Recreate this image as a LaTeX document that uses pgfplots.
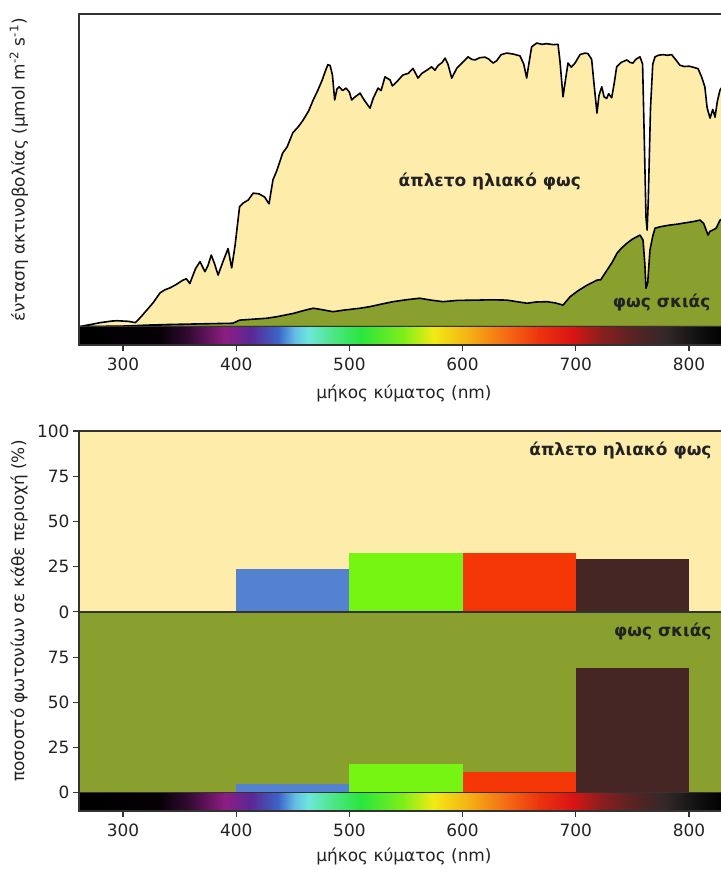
\documentclass[border=0pt]{standalone}
\usepackage{fontspec}
\setmainfont{DejaVu Sans}
\usepackage{pgfplots}
\pgfplotsset{compat=1.18}
\definecolor{sunfill}{RGB}{254,236,170}
\definecolor{shadefill}{RGB}{137,159,46}
\definecolor{barblue}{RGB}{85,130,208}
\definecolor{bargreen}{RGB}{118,245,18}
\definecolor{barred}{RGB}{245,55,8}
\definecolor{barbrown}{RGB}{70,38,36}
\definecolor{axcol}{RGB}{51,51,51}
\definecolor{txt}{RGB}{34,34,34}
\pgfplotsset{colormap={spec}{
 rgb255(0pt)=(0,0,0) rgb255(70pt)=(5,0,5) rgb255(96pt)=(50,10,50)
 rgb255(129pt)=(140,30,130) rgb255(152pt)=(90,40,150) rgb255(176pt)=(60,100,200)
 rgb255(191pt)=(100,190,230) rgb255(202pt)=(110,230,220) rgb255(223pt)=(80,230,140)
 rgb255(249pt)=(40,230,60) rgb255(287pt)=(130,238,25) rgb255(313pt)=(240,235,20)
 rgb255(343pt)=(245,180,20) rgb255(381pt)=(245,100,20) rgb255(407pt)=(235,50,15)
 rgb255(436pt)=(220,20,20) rgb255(460pt)=(140,30,30) rgb255(489pt)=(90,35,35)
 rgb255(519pt)=(50,40,40) rgb255(549pt)=(15,15,15) rgb255(569pt)=(0,0,0)}}
\pgfplotsset{common/.style={scale only axis, width=644.1bp, xmin=261, xmax=830,
 axis on top, axis line style={axcol, line width=1.3bp},
 xtick={300,400,...,800}, xtick pos=bottom, tick align=outside, major tick length=6bp,
 tick style={axcol, line width=1.1bp},
 ticklabel style={font=\fontsize{17}{20}\selectfont, text=txt},
 xticklabel style={yshift=-3bp},
 /pgf/number format/assume math mode=true, /pgf/number format/set thousands separator={}}}
\newcommand{\lblfont}{\fontsize{17}{20}\selectfont}
\newcommand{\boldfont}{\fontsize{17}{20}\selectfont\bfseries}
\begin{document}
\begin{tikzpicture}[x=1bp,y=1bp]
\useasboundingbox (0,0) rectangle (721,870);
% ---------------- top panel ----------------
\begin{axis}[common, at={(78.85bp,525bp)}, anchor=south west, height=331bp,
 ymin=-5.85, ymax=100, ytick=\empty]
\addplot[fill=sunfill, draw=black, line width=1.6bp, line join=round] coordinates {
(261,0) (270,0.6) (280,1.3) (290,1.8) (295,1.9) (300,1.8) (305,1.7) (311,1.3) (316,3.2)
(321,5.3) (326.5,7.6) (332.7,10.8) (337,11.8) (341.5,12.4) (347,13.5) (353,14.9) (356,15.3)
(359,13.8) (364,18.5) (368,20.8) (372.4,17.6) (375,19.5) (378,22.9) (381,20.0) (384,16.5)
(388,20.5) (392.8,25) (396,18.8) (399,26) (403,38.4) (406,39.5) (410.6,40.5) (415,42.7)
(420,42.5) (425,41.5) (429,39.3) (432.5,47) (436,50) (441,55.5) (445,57.5) (450,62)
(455,64) (459,66) (464,69) (468,72.5) (472,75.5) (476,78.9) (479,82) (481,83.8) (483,83.5)
(485,80.5) (487,72.5) (489,76) (491,76.7) (494,75.5) (497,76.3) (500,75) (502,72.5)
(505,73.5) (507,74) (509.4,74.7) (513,72.5) (518.2,69.9) (521,73) (525.3,76.3) (528,75.5)
(531.4,79.9) (535.9,78.9) (538,77) (541.8,78.3) (547.3,80.5) (552,81) (556.2,82.6)
(560.6,79.5) (564,81) (568.3,82) (572.7,83.1) (575.5,82) (578.3,83.5) (582,84.5)
(584.5,85.9) (587,84) (590.4,79.5) (594.8,82.6) (600,84.5) (604.8,86.3) (608,85.5)
(611,85.3) (615,86) (619.8,86.2) (623,85.6) (626.9,84.3) (630,85) (634,87) (639,87.5)
(644.5,87.2) (650.7,86.6) (654,84) (656.6,79.5) (658.5,84) (661,89.5) (665.5,90.7)
(670,90.3) (674.3,90.5) (680,90.2) (684.3,90.3) (686,85) (688.7,73.5) (690.5,78)
(693.1,84.3) (696,83) (699.3,84.3) (703.7,87) (708,87.5) (710.8,87.3) (714,85.5) (716,78)
(718.7,68.3) (720.5,74) (722.9,76.7) (725,73.5) (727.3,73) (729,74.5) (731.7,73.2)
(734,78) (736.1,83.1) (740,84.5) (745,85.3) (748,84.5) (750.5,84.3) (753,85.5)
(756.7,86.3) (759,84) (760.5,60) (762,35) (763,30.9) (764,40) (766,70) (768,84) (770,86.3)
(773,86.8) (777,87) (781,86.8) (784.7,87) (788,85.5) (792,83.6) (796,83.2) (800,83.3)
(803.5,83) (808,82.5) (811,80) (814,76.7) (816,70) (818.6,66.7) (821,69.5) (823,67)
(825,72) (827.4,75.7) (830,77) (830,0)} -- cycle;
\addplot[fill=shadefill, draw=black, line width=1.6bp, line join=round] coordinates {
(261,0) (280,0.1) (300,0.2) (308.8,0.3) (321,0.5) (340,0.7) (368,0.9) (397,1.1) (403,2.1)
(415,2.4) (427,2.7) (436,3.2) (450,4.2) (460,5.2) (468,5.9) (475,5.5) (485.5,4.8)
(495,5.3) (509.4,5.9) (518,6.4) (528,7.2) (538.5,8.0) (550,8.6) (562,9.1) (572,8.5)
(582.7,8.0) (595,8.4) (612.7,8.5) (625,8.6) (639,8.5) (648,8.0) (657,7.5) (665,7.9)
(674.5,8.0) (682,7.6) (688.7,6.9) (695,9.6) (702,11.5) (710,13.3) (715,14.2) (718.7,14.9)
(722,15.0) (727.6,18.1) (732,20.5) (736.4,23.5) (740,25) (745.2,26.7) (750,28)
(756.7,29.3) (759.4,27.7) (761,20) (762,12.3) (763.5,14) (765.5,24.5) (768,29) (770,31.5)
(775,32) (783,32.5) (790,32.8) (794.7,33.1) (800,33.4) (805,33.7) (809.7,34.1) (813,33)
(816.8,29.3) (818.5,30.5) (821,30.9) (824,31.5) (827.4,34.1) (830,34.5) (830,0)} -- cycle;
\addplot[surf, shader=interp, colormap name=spec, point meta=x] coordinates {
(261,-5.85) (331,-5.85) (357,-5.85) (390,-5.85) (413,-5.85) (437,-5.85) (452,-5.85)
(463,-5.85) (484,-5.85) (510,-5.85) (548,-5.85) (574,-5.85) (604,-5.85) (642,-5.85)
(668,-5.85) (697,-5.85) (721,-5.85) (750,-5.85) (780,-5.85) (810,-5.85) (830,-5.85)

(261,0) (331,0) (357,0) (390,0) (413,0) (437,0) (452,0)
(463,0) (484,0) (510,0) (548,0) (574,0) (604,0) (642,0)
(668,0) (697,0) (721,0) (750,0) (780,0) (810,0) (830,0)
};
\addplot[axcol, line width=1.1bp] coordinates {(261,0) (830,0)};
\node[font=\boldfont, text=txt] at (axis cs:624,46.3) {άπλετο ηλιακό φως};
\node[font=\boldfont, text=txt] at (axis cs:775.8,7.6) {φως σκιάς};
\end{axis}
% ---------------- bottom panel ----------------
\begin{axis}[common, at={(78.85bp,59bp)}, anchor=south west, height=380bp,
 ymin=-10.1, ymax=200, ytick={0,25,...,200}, yticklabels={0,25,50,75,0,25,50,75,100},
 ytick pos=left]
\addplot[fill=shadefill, draw=none] coordinates {(261,0) (830,0) (830,100) (261,100)} -- cycle;
\addplot[fill=sunfill, draw=none] coordinates {(261,100) (830,100) (830,200) (261,200)} -- cycle;
% sunlight bars (baseline 100)
\addplot[fill=barblue, draw=none] coordinates {(400,100) (400,123.7) (500,123.7) (500,100)} -- cycle;
\addplot[fill=bargreen, draw=none] coordinates {(500,100) (500,132.4) (600,132.4) (600,100)} -- cycle;
\addplot[fill=barred, draw=none] coordinates {(600,100) (600,132.4) (700,132.4) (700,100)} -- cycle;
\addplot[fill=barbrown, draw=none] coordinates {(700,100) (700,129.3) (800,129.3) (800,100)} -- cycle;
% shade bars (baseline 0)
\addplot[fill=barblue, draw=none] coordinates {(400,0) (400,4.6) (500,4.6) (500,0)} -- cycle;
\addplot[fill=bargreen, draw=none] coordinates {(500,0) (500,15.9) (600,15.9) (600,0)} -- cycle;
\addplot[fill=barred, draw=none] coordinates {(600,0) (600,11.6) (700,11.6) (700,0)} -- cycle;
\addplot[fill=barbrown, draw=none] coordinates {(700,0) (700,68.8) (800,68.8) (800,0)} -- cycle;
\addplot[axcol, line width=1.3bp] coordinates {(261,100) (830,100)};
\addplot[surf, shader=interp, colormap name=spec, point meta=x] coordinates {
(261,-10.1) (331,-10.1) (357,-10.1) (390,-10.1) (413,-10.1) (437,-10.1) (452,-10.1)
(463,-10.1) (484,-10.1) (510,-10.1) (548,-10.1) (574,-10.1) (604,-10.1) (642,-10.1)
(668,-10.1) (697,-10.1) (721,-10.1) (750,-10.1) (780,-10.1) (810,-10.1) (830,-10.1)

(261,0) (331,0) (357,0) (390,0) (413,0) (437,0) (452,0)
(463,0) (484,0) (510,0) (548,0) (574,0) (604,0) (642,0)
(668,0) (697,0) (721,0) (750,0) (780,0) (810,0) (830,0)
};
\addplot[axcol, line width=1.1bp] coordinates {(261,0) (830,0)};
\node[font=\boldfont, text=txt, anchor=east] at (axis cs:823,189.3) {άπλετο ηλιακό φως};
\node[font=\boldfont, text=txt, anchor=east] at (axis cs:823,88.9) {φως σκιάς};
\end{axis}
% ---------------- labels ----------------
\node[font=\lblfont, text=txt, rotate=90] at (19,700) {ένταση ακτινοβολίας (μmol m\textsuperscript{-2} s\textsuperscript{-1})};
\node[font=\lblfont, text=txt, rotate=90] at (19,259) {ποσοστό φωτονίων σε κάθε περιοχή (\%)};
\node[font=\lblfont, text=txt] at (404,476) {μήκος κύματος (nm)};
\node[font=\lblfont, text=txt] at (404,13) {μήκος κύματος (nm)};
\end{tikzpicture}
\end{document}
